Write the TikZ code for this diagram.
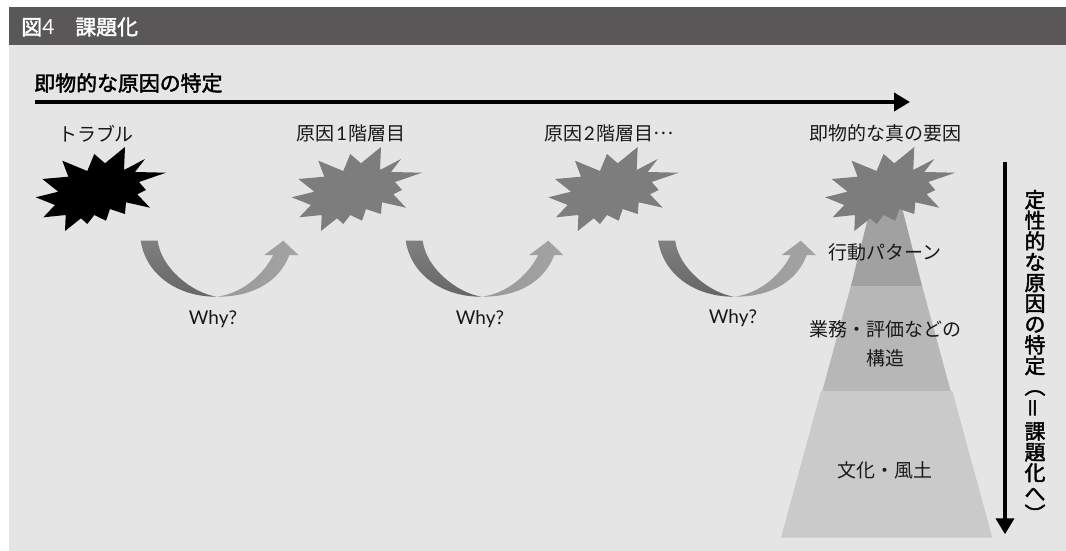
\documentclass[tikz,border=0pt]{standalone}
\usepackage{fontspec}
\usepackage{xcolor}
\usetikzlibrary{arrows.meta}
\setmainfont{Noto Sans CJK JP}
\newfontfamily\latinfont{Lato}
\newfontfamily\mediumfont[FakeBold=2]{Noto Sans CJK JP}

\definecolor{panelgray}{HTML}{E5E5E5}
\definecolor{headgray}{HTML}{595757}
\definecolor{burstgray}{HTML}{7D7D7D}
\definecolor{tiertop}{HTML}{A0A1A0}
\definecolor{tiermid}{HTML}{B6B7B6}
\definecolor{tierlow}{HTML}{C9CAC9}

\begin{document}
\begin{tikzpicture}[
    x=0.02cm, y=-0.02cm,
    label/.style={
        font=\fontsize{10.8}{16.4}\selectfont, align=center, inner sep=0pt, text=black!90
    },
    heading/.style={
        font=\fontsize{11.9}{11.8}\selectfont\mediumfont, align=center, inner sep=0pt
    },
    flow/.style={
        -{Triangle[length=9.1pt,width=10.2pt]}, line width=2.27pt, black
    },
    pics/burst/.style={code={
        \fill[#1] (125,147) -- (124,170) -- (145,159) -- (135,172) -- (166,172.7)
            -- (139,182) -- (146,190) -- (137.3,194.3) -- (150,207.7) -- (126,202.3)
            -- (125,214) -- (110,209) -- (106,220.7) -- (94.3,215) -- (87.3,224)
            -- (81,218.3) -- (65,231) -- (65.7,215) -- (43.3,217.3) -- (55,205)
            -- (35.7,197.3) -- (58.3,191.7) -- (42.3,179) -- (68.3,176.7) -- (62.3,160.7)
            -- (87.3,171) -- (94.3,154) -- (105,163.3) -- cycle;
    }},
    pics/whyarrow/.style={code={
        % dark half down to the bottom tip
        \shade[top color=black!50, bottom color=black!60]
            (140.7,240.7) .. controls (146,275) and (178,297) .. (216.7,296.7)
            .. controls (192,293) and (161,268) .. (157.7,240.7) -- cycle;
        % light half with the head
        \shade[left color=black!40, right color=black!36]
            (216.7,296.7) .. controls (240,294) and (262,277) .. (273.3,255)
            -- (264.3,255) -- (283.3,240.7) -- (298.3,255) -- (289.3,255)
            .. controls (280,280) and (255,297) .. (216.7,296.7) -- cycle;
    }}
]

% Panel and title bar
\useasboundingbox (0,0) rectangle (1066,551);
\fill[panelgray] (9,45) rectangle (1066,551);
\fill[headgray] (9,7) rectangle (1066,45);
\node[heading,anchor=west,text=white] (title) at (21,27) {図{\latinfont 4}　課題化};

% Horizontal axis
\node[heading,anchor=west] (quick) at (34,83) {即物的な原因の特定};
\coordinate (quickstart) at (34.5,102);
\coordinate (quickend) at (910,102);
\draw[flow] (quickstart) -- (quickend);

% Tiers under the last burst
\fill[tiertop] (872.5,200) -- (900,200) -- (922.3,286.7) -- (850.7,286.7) -- cycle;
\fill[tiermid] (850.7,286.7) -- (922.3,286.7) -- (950.7,391) -- (822.3,391) -- cycle;
\fill[tierlow] (821,391) -- (952.3,391) -- (992.3,537.7) -- (781,537.7) -- cycle;

% Bursts
\pic at (0,0) {burst=black};
\pic at (256,0) {burst=burstgray};
\pic at (512.7,0) {burst=burstgray};
\pic at (789.3,0) {burst=burstgray};

% Curved arrows between bursts
\pic at (0,0) {whyarrow};
\pic at (265,0) {whyarrow};
\pic at (517.5,0) {whyarrow};

% Labels
\node[label] (trouble) at (96,134) {トラブル};
\node[label] (cause1) at (351,133) {原因\kern0.8pt{\latinfont 1}\kern0.8pt階層目};
\node[label] (cause2) at (609,133) {原因\kern0.8pt{\latinfont 2}\kern0.8pt階層目\raisebox{3.2pt}{…}};
\node[label] (root) at (885.3,133) {即物的な真の要因};
\node[label] (why1) at (213,319) {\latinfont Why?};
\node[label] (why2) at (480,319) {\latinfont Why?};
\node[label] (why3) at (733,318) {\latinfont Why?};
\node[label] (habit) at (885.3,252) {行動パターン};
\node[label] (work) at (885.3,343.5) {業務・評価などの\\構造};
\node[label] (culture) at (885.3,470.7) {文化・風土};

% Vertical axis
\coordinate (deepstart) at (1005,162.3);
\coordinate (deepend) at (1005,534.3);
\draw[flow] (deepstart) -- (deepend);
\node[heading] (deep) at (1035,356) {定\\性\\的\\な\\原\\因\\の\\特\\定\\︵\\\rotatebox{90}{＝}\\課\\題\\化\\へ\\︶};

\end{tikzpicture}
\end{document}
